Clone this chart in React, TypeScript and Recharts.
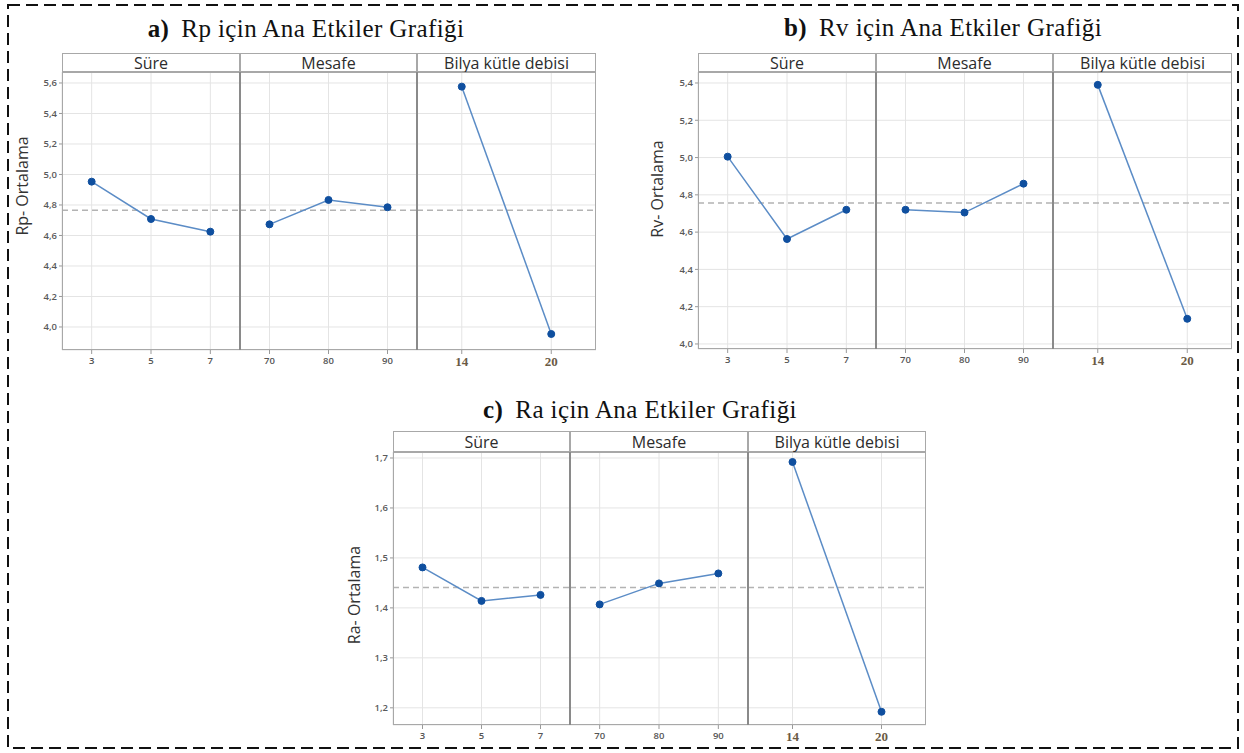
import { LineChart, Line, XAxis, YAxis, CartesianGrid, ReferenceLine } from "recharts";

const facetNames = ["Süre", "Mesafe", "Bilya kütle debisi"];
const sureLevels = ["3", "5", "7"];
const mesafeLevels = ["70", "80", "90"];
const bilyaLevels = ["14", "20"];

const rpSure = [4.953, 4.708, 4.625];
const rpMesafe = [4.673, 4.833, 4.785];
const rpBilya = [5.576, 3.954];
const rpMean = 4.765;
const rpTicks = [4.0, 4.2, 4.4, 4.6, 4.8, 5.0, 5.2, 5.4, 5.6];

const rvSure = [5.005, 4.563, 4.72];
const rvMesafe = [4.72, 4.705, 4.86];
const rvBilya = [5.39, 4.135];
const rvMean = 4.756;
const rvTicks = [4.0, 4.2, 4.4, 4.6, 4.8, 5.0, 5.2, 5.4];

const raSure = [1.481, 1.414, 1.426];
const raMesafe = [1.407, 1.449, 1.469];
const raBilya = [1.692, 1.192];
const raMean = 1.441;
const raTicks = [1.2, 1.3, 1.4, 1.5, 1.6, 1.7];

const SANS = "'Open Sans', 'Noto Sans', sans-serif";
const SERIF = "'Liberation Serif', 'DejaVu Serif', serif";
const Y_AXIS_W = 36;
const X_AXIS_H = 22;

const fmt = (v: number) => v.toFixed(1).replace(".", ",");

type FacetProps = {
  levels: string[];
  values: number[];
  left: number;
  top: number;
  width: number;
  height: number;
  domain: [number, number];
  ticks: number[];
  mean: number;
  showY: boolean;
  serifTicks: boolean;
};

function Facet({ levels, values, left, top, width, height, domain, ticks, mean, showY, serifTicks }: FacetProps) {
  const data = levels.map((x, i) => ({ x, v: values[i] }));
  const pad = width / (2 * levels.length);
  const yw = showY ? Y_AXIS_W : 0;
  const xTick = serifTicks
    ? { fontSize: 13, fontFamily: SERIF, fontWeight: 700, fill: "#6a5a44" }
    : { fontSize: 9.5, fontFamily: SANS, fontWeight: 600, fill: "#555" };
  return (
    <div style={{ position: "absolute", left: left - yw, top }}>
      <LineChart
        width={width + yw}
        height={height + X_AXIS_H}
        data={data}
        margin={{ top: 0, right: 0, bottom: 0, left: 0 }}
      >
        <CartesianGrid stroke="#e4e4e4" strokeWidth={1} />
        <XAxis
          dataKey="x"
          scale="point"
          padding={{ left: pad, right: pad }}
          interval={0}
          axisLine={false}
          tickLine={{ stroke: "#999" }}
          tickSize={4}
          tickMargin={3}
          height={X_AXIS_H}
          tick={xTick}
        />
        <YAxis
          hide={!showY}
          width={Y_AXIS_W}
          type="number"
          domain={domain}
          ticks={ticks}
          allowDataOverflow
          axisLine={false}
          tickLine={{ stroke: "#999" }}
          tickSize={3}
          tickMargin={2}
          tickFormatter={fmt}
          tick={{ fontSize: 9.5, fontFamily: SANS, fontWeight: 600, fill: "#5a5a5a" }}
        />
        <ReferenceLine y={mean} stroke="#b3b3b3" strokeDasharray="6 4" strokeWidth={1.5} />
        <Line
          dataKey="v"
          stroke="#5b8cc6"
          strokeWidth={1.5}
          dot={{ r: 3.5, fill: "#0f4f9f", stroke: "#0f4f9f", strokeWidth: 1 }}
          isAnimationActive={false}
        />
      </LineChart>
    </div>
  );
}

type PanelProps = {
  letter: string;
  title: string;
  titleX: number;
  titleY: number;
  yLabel: string;
  yLabelX: number;
  yLabelY: number;
  left: number;
  headerTop: number;
  headerH: number;
  widths: number[];
  plotH: number;
  domain: [number, number];
  ticks: number[];
  mean: number;
  series: number[][];
};

function Panel(p: PanelProps) {
  const levelSets = [sureLevels, mesafeLevels, bilyaLevels];
  const plotTop = p.headerTop + p.headerH;
  const total = p.widths.reduce((a, b) => a + b, 0);
  const starts = p.widths.map((_, i) => p.left + p.widths.slice(0, i).reduce((a, b) => a + b, 0));
  return (
    <>
      <div
        style={{
          position: "absolute",
          left: p.titleX - 250,
          width: 500,
          top: p.titleY - 16,
          textAlign: "center",
          fontFamily: SERIF,
          fontSize: 25,
          lineHeight: "30px",
          letterSpacing: 0.4,
          color: "#111",
          whiteSpace: "nowrap",
        }}
      >
        <b>{p.letter}</b>
        <span style={{ marginLeft: 12 }}>{p.title}</span>
      </div>
      <div
        style={{
          position: "absolute",
          left: p.yLabelX - 80,
          top: p.yLabelY - 11,
          width: 160,
          height: 22,
          lineHeight: "22px",
          textAlign: "center",
          fontFamily: SANS,
          fontSize: 16,
          color: "#333",
          transform: "rotate(-90deg)",
          whiteSpace: "nowrap",
        }}
      >
        {p.yLabel}
      </div>
      {p.widths.map((w, i) => (
        <div
          key={"h" + i}
          style={{
            position: "absolute",
            left: starts[i],
            top: p.headerTop,
            width: w,
            height: p.headerH,
            boxSizing: "border-box",
            border: "1.5px solid #a8a8a8",
            background: "#fff",
            display: "flex",
            alignItems: "center",
            justifyContent: "center",
            fontFamily: SANS,
            fontSize: 16,
            lineHeight: 1,
            paddingTop: 1,
            color: "#2c2c2c",
            whiteSpace: "nowrap",
          }}
        >
          {facetNames[i]}
        </div>
      ))}
      {p.widths.map((w, i) => (
        <Facet
          key={"f" + i}
          levels={levelSets[i]}
          values={p.series[i]}
          left={starts[i]}
          top={plotTop}
          width={w}
          height={p.plotH}
          domain={p.domain}
          ticks={p.ticks}
          mean={p.mean}
          showY={i === 0}
          serifTicks={i === 2}
        />
      ))}
      <div
        style={{
          position: "absolute",
          left: p.left,
          top: plotTop,
          width: total,
          height: p.plotH,
          boxSizing: "border-box",
          border: "1.5px solid #a8a8a8",
          pointerEvents: "none",
        }}
      />
      {starts.slice(1).map((s, i) => (
        <div
          key={"d" + i}
          style={{
            position: "absolute",
            left: s - 1,
            top: plotTop,
            width: 1.5,
            height: p.plotH,
            background: "#8a8a8a",
          }}
        />
      ))}
    </>
  );
}

export default function App() {
  return (
    <div style={{ position: "absolute", left: 0, top: 0, width: 1244, height: 753, background: "#fff", overflow: "hidden" }}>
      <svg width={1244} height={753} style={{ position: "absolute", left: 0, top: 0 }}>
        <rect x={8} y={5} width={1230} height={743} fill="none" stroke="#111" strokeWidth={2} strokeDasharray="12 6" />
      </svg>
      <Panel
        letter="a)"
        title="Rp için Ana Etkiler Grafiği"
        titleX={306}
        titleY={30}
        yLabel="Rp- Ortalama"
        yLabelX={22}
        yLabelY={186}
        left={62}
        headerTop={53}
        headerH={19}
        widths={[178, 177, 179]}
        plotH={278}
        domain={[3.849, 5.672]}
        ticks={rpTicks}
        mean={rpMean}
        series={[rpSure, rpMesafe, rpBilya]}
      />
      <Panel
        letter="b)"
        title="Rv için Ana Etkiler Grafiği"
        titleX={943}
        titleY={29}
        yLabel="Rv- Ortalama"
        yLabelX={657}
        yLabelY={189}
        left={698}
        headerTop={53}
        headerH={19}
        widths={[178, 177, 179]}
        plotH={277}
        domain={[3.973, 5.459]}
        ticks={rvTicks}
        mean={rvMean}
        series={[rvSure, rvMesafe, rvBilya]}
      />
      <Panel
        letter="c)"
        title="Ra için Ana Etkiler Grafiği"
        titleX={640}
        titleY={411}
        yLabel="Ra- Ortalama"
        yLabelX={354}
        yLabelY={595}
        left={393}
        headerTop={431}
        headerH={21}
        widths={[177, 178, 178]}
        plotH={273}
        domain={[1.1656, 1.712]}
        ticks={raTicks}
        mean={raMean}
        series={[raSure, raMesafe, raBilya]}
      />
    </div>
  );
}
